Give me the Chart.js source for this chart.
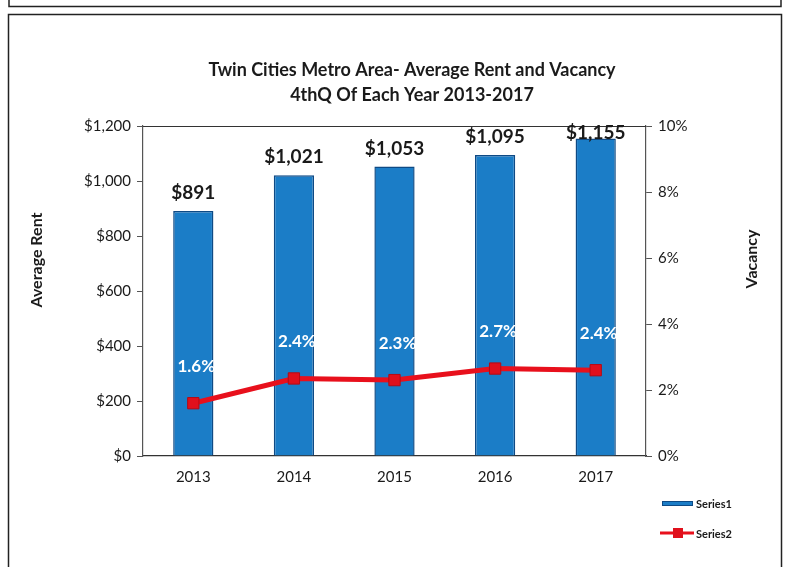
<!DOCTYPE html>
<html>
<head>
<meta charset="utf-8">
<script src="https://cdn.jsdelivr.net/npm/chart.js@4.4.1/dist/chart.umd.min.js"></script>
<style>
  html, body { margin: 0; padding: 0; background: #fff; }
  #wrap { width: 788px; height: 567px; }
</style>
</head>
<body>
<div id="wrap"><canvas id="grafico" width="788" height="567"></canvas></div>
<script>
// datos del grafico
const years = ["2013", "2014", "2015", "2016", "2017"];
const avgRent = [891, 1021, 1053, 1095, 1155];
const vacancy = [1.6, 2.35, 2.3, 2.65, 2.6];
const vacancyLabels = ["1.6%", "2.4%", "2.3%", "2.7%", "2.4%"];
const titleLines = ["Twin Cities Metro Area- Average Rent and Vacancy", "4thQ Of Each Year 2013-2017"];
const axisTitles = ["Average Rent", "Vacancy"];
const rentTicks = [0, 200, 400, 600, 800, 1000, 1200];
const vacancyTicks = [0, 2, 4, 6, 8, 10];

const FONT = "Lato, 'Open Sans', sans-serif";

function money(v) {
    return "$" + Number(v).toLocaleString("en-US");
}

// marcos, titulo, etiquetas y leyenda
const extras = {
    id: "extras",
    beforeDraw(chart) {
        const ctx = chart.ctx;
        ctx.save();
        ctx.fillStyle = "#fff";
        ctx.fillRect(0, 0, chart.width, chart.height);
        ctx.strokeStyle = "#222";
        ctx.lineWidth = 1.5;
        // caja de arriba (solo el borde inferior se ve)
        ctx.beginPath();
        ctx.moveTo(9, 0); ctx.lineTo(9, 6.5); ctx.lineTo(781, 6.5); ctx.lineTo(781, 0);
        ctx.stroke();
        // marco principal
        ctx.strokeRect(8.5, 14.5, 773, 600);
        ctx.restore();
    },
    afterDraw(chart) {
        const ctx = chart.ctx;
        const area = chart.chartArea;
        ctx.save();
        // linea superior del area
        ctx.strokeStyle = "#333";
        ctx.lineWidth = 1.2;
        ctx.beginPath();
        ctx.moveTo(area.left, area.top + 0.5);
        ctx.lineTo(area.right, area.top + 0.5);
        ctx.stroke();

        // titulo
        ctx.fillStyle = "#1a1a1a";
        ctx.font = "bold 18px " + FONT;
        ctx.textAlign = "center";
        ctx.textBaseline = "middle";
        ctx.fillText(titleLines[0], 412, 70);
        ctx.fillText(titleLines[1], 412, 95);

        // titulos de ejes (los dos giran hacia arriba)
        ctx.font = "bold 16px " + FONT;
        [[37, 260, axisTitles[0]], [752, 259, axisTitles[1]]].forEach(([x, y, t]) => {
            ctx.save();
            ctx.translate(x, y);
            ctx.rotate(-Math.PI / 2);
            ctx.fillText(t, 0, 0);
            ctx.restore();
        });

        // etiquetas de barras
        const barMeta = chart.getDatasetMeta(0);
        ctx.font = "bold 19px " + FONT;
        barMeta.data.forEach((bar, i) => {
            const y = Math.max(bar.y - 18, area.top + 7);
            ctx.fillText(money(avgRent[i]), bar.x, y);
        });

        // etiquetas de la linea
        const lineMeta = chart.getDatasetMeta(1);
        ctx.fillStyle = "#fff";
        ctx.font = "bold 17px " + FONT;
        lineMeta.data.forEach((pt, i) => {
            ctx.fillText(vacancyLabels[i], pt.x + 3, pt.y - 37);
        });

        // leyenda
        const ds = chart.data.datasets;
        ctx.fillStyle = "#1b7dc7";
        ctx.fillRect(662, 501, 31, 5);
        ctx.strokeStyle = "#0e4a85";
        ctx.lineWidth = 1;
        ctx.strokeRect(662.5, 501.5, 30, 4);
        ctx.strokeStyle = "#e8101c";
        ctx.lineWidth = 3;
        ctx.beginPath();
        ctx.moveTo(660, 533); ctx.lineTo(694, 533);
        ctx.stroke();
        ctx.fillStyle = "#e0101c";
        ctx.fillRect(673, 528, 10, 10);
        ctx.fillStyle = "#1a1a1a";
        ctx.font = "bold 11px " + FONT;
        ctx.textAlign = "left";
        ctx.fillText(ds[0].label, 696, 504);
        ctx.fillText(ds[1].label, 696, 534);
        ctx.restore();
    }
};

const ctx = document.getElementById("grafico").getContext("2d");
new Chart(ctx, {
    type: "bar",
    data: {
        labels: years,
        datasets: [
            {
                label: "Series1",
                data: avgRent,
                yAxisID: "y",
                backgroundColor: "#1b7dc7",
                borderColor: "#0e4a85",
                borderWidth: 1.5,
                barPercentage: 0.8,
                categoryPercentage: 0.5,
                order: 1
            },
            {
                type: "line",
                label: "Series2",
                data: vacancy,
                yAxisID: "y1",
                borderColor: "#e8101c",
                borderWidth: 5,
                backgroundColor: "#e0101c",
                pointStyle: "rect",
                pointRadius: 8,
                pointBorderColor: "#b50a14",
                pointBorderWidth: 1,
                order: 0
            }
        ]
    },
    options: {
        responsive: false,
        animation: false,
        layout: { padding: { top: 126, left: 0, right: 0, bottom: 0 } },
        plugins: {
            legend: { display: false },
            title: { display: false },
            tooltip: { enabled: false }
        },
        scales: {
            x: {
                grid: { display: false, drawTicks: false },
                border: { color: "#333", width: 1.2 },
                ticks: { color: "#1a1a1a", font: { family: FONT, size: 15 }, padding: 12 },
                afterFit(scale) { scale.height = 111; }
            },
            y: {
                position: "left",
                min: 0,
                max: 1200,
                afterBuildTicks(scale) { scale.ticks = rentTicks.map(v => ({ value: v })); },
                grid: { drawOnChartArea: false, tickLength: 6, color: "#555" },
                border: { color: "#555", width: 1.2 },
                ticks: { color: "#1a1a1a", font: { family: FONT, size: 15 }, padding: 6, callback: v => money(v) },
                afterFit(scale) { scale.width = 143; }
            },
            y1: {
                position: "right",
                min: 0,
                max: 10,
                afterBuildTicks(scale) { scale.ticks = vacancyTicks.map(v => ({ value: v })); },
                grid: { drawOnChartArea: false, tickLength: 6, color: "#555" },
                border: { color: "#555", width: 1.2 },
                ticks: { color: "#1a1a1a", font: { family: FONT, size: 15 }, padding: 6, callback: v => v + "%" },
                afterFit(scale) { scale.width = 142; }
            }
        }
    },
    plugins: [extras]
});
</script>
</body>
</html>
